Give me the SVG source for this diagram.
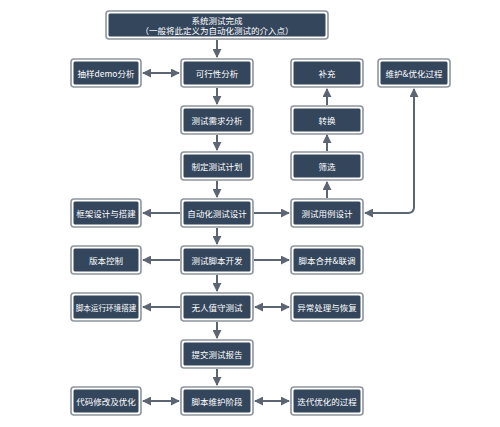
<svg xmlns="http://www.w3.org/2000/svg" width="500" height="427" viewBox="0 0 500 427">
<style>
.o{fill:#ffffff;stroke:#8e959f;stroke-width:1.6}
.i{fill:#34465c}
.t{fill:#ffffff;font-family:"Noto Sans CJK SC","Liberation Sans",sans-serif;font-size:8.5px;text-anchor:middle;dominant-baseline:central}
.s{font-size:7.6px}
.c{fill:none;stroke:#5b6573;stroke-width:2}
</style>
<defs>
<marker id="a" viewBox="0 0 10 10" refX="9" refY="5" markerWidth="4.5" markerHeight="4.5" orient="auto-start-reverse" markerUnits="strokeWidth">
<path d="M0,0 L10,5 L0,10 z" fill="#5b6573"/>
</marker>
</defs>
<rect width="500" height="427" fill="#ffffff"/>
<g id="connectors">
<line class="c" x1="217" y1="40" x2="217" y2="57" marker-end="url(#a)"/>
<line class="c" x1="143" y1="73" x2="179" y2="73" marker-start="url(#a)" marker-end="url(#a)"/>
<line class="c" x1="217" y1="88" x2="217" y2="104" marker-end="url(#a)"/>
<line class="c" x1="217" y1="135" x2="217" y2="150" marker-end="url(#a)"/>
<line class="c" x1="217" y1="181" x2="217" y2="197" marker-end="url(#a)"/>
<line class="c" x1="180" y1="213" x2="143" y2="213" marker-end="url(#a)"/>
<line class="c" x1="254" y1="213" x2="289" y2="213" marker-end="url(#a)"/>
<line class="c" x1="327" y1="198" x2="327" y2="182" marker-end="url(#a)"/>
<line class="c" x1="327" y1="151" x2="327" y2="135" marker-end="url(#a)"/>
<line class="c" x1="327" y1="105" x2="327" y2="89" marker-end="url(#a)"/>
<path class="c" d="M365,213 H408 Q414,213 414,207 V89" marker-start="url(#a)" marker-end="url(#a)"/>
<line class="c" x1="217" y1="228" x2="217" y2="244" marker-end="url(#a)"/>
<line class="c" x1="180" y1="260" x2="143" y2="260" marker-end="url(#a)"/>
<line class="c" x1="254" y1="260" x2="289" y2="260" marker-end="url(#a)"/>
<line class="c" x1="217" y1="275" x2="217" y2="291" marker-end="url(#a)"/>
<line class="c" x1="180" y1="307" x2="143" y2="307" marker-end="url(#a)"/>
<line class="c" x1="255" y1="307" x2="289" y2="307" marker-start="url(#a)" marker-end="url(#a)"/>
<line class="c" x1="217" y1="322" x2="217" y2="338" marker-end="url(#a)"/>
<line class="c" x1="217" y1="369" x2="217" y2="385" marker-end="url(#a)"/>
<line class="c" x1="143" y1="401" x2="179" y2="401" marker-start="url(#a)" marker-end="url(#a)"/>
<line class="c" x1="255" y1="401" x2="289" y2="401" marker-start="url(#a)" marker-end="url(#a)"/>
</g>
<g id="n_top"><rect class="o" x="106" y="11" width="222" height="28" rx="3"/><rect class="i" x="108.5" y="13.5" width="217" height="23" rx="1.5"/><text class="t" x="217" y="19.5">系统测试完成</text><text class="t" x="217" y="30">（一般将此定义为自动化测试的介入点）</text></g>
<g id="n_demo"><rect class="o" x="71" y="59" width="70" height="28" rx="3"/><rect class="i" x="73.5" y="61.5" width="65" height="23" rx="1.5"/><text class="t" x="106" y="73">抽样demo分析</text></g>
<g id="n_kx"><rect class="o" x="181" y="59" width="72" height="28" rx="3"/><rect class="i" x="183.5" y="61.5" width="67" height="23" rx="1.5"/><text class="t" x="217" y="73">可行性分析</text></g>
<g id="n_bc"><rect class="o" x="291" y="59" width="72" height="28" rx="3"/><rect class="i" x="293.5" y="61.5" width="67" height="23" rx="1.5"/><text class="t" x="327" y="73">补充</text></g>
<g id="n_wh"><rect class="o" x="378" y="59" width="72" height="28" rx="3"/><rect class="i" x="380.5" y="61.5" width="67" height="23" rx="1.5"/><text class="t" x="414" y="73">维护&amp;优化过程</text></g>
<g id="n_xq"><rect class="o" x="181" y="106" width="72" height="28" rx="3"/><rect class="i" x="183.5" y="108.5" width="67" height="23" rx="1.5"/><text class="t" x="217" y="120">测试需求分析</text></g>
<g id="n_zh"><rect class="o" x="291" y="106" width="72" height="28" rx="3"/><rect class="i" x="293.5" y="108.5" width="67" height="23" rx="1.5"/><text class="t" x="327" y="120">转换</text></g>
<g id="n_jh"><rect class="o" x="181" y="152" width="72" height="28" rx="3"/><rect class="i" x="183.5" y="154.5" width="67" height="23" rx="1.5"/><text class="t" x="217" y="166">制定测试计划</text></g>
<g id="n_sx"><rect class="o" x="291" y="152" width="72" height="28" rx="3"/><rect class="i" x="293.5" y="154.5" width="67" height="23" rx="1.5"/><text class="t" x="327" y="166">筛选</text></g>
<g id="n_kj"><rect class="o" x="71" y="199" width="70" height="28" rx="3"/><rect class="i" x="73.5" y="201.5" width="65" height="23" rx="1.5"/><text class="t" x="106" y="213">框架设计与搭建</text></g>
<g id="n_zd"><rect class="o" x="181" y="199" width="72" height="28" rx="3"/><rect class="i" x="183.5" y="201.5" width="67" height="23" rx="1.5"/><text class="t" x="217" y="213">自动化测试设计</text></g>
<g id="n_yl"><rect class="o" x="291" y="199" width="72" height="28" rx="3"/><rect class="i" x="293.5" y="201.5" width="67" height="23" rx="1.5"/><text class="t" x="327" y="213">测试用例设计</text></g>
<g id="n_bb"><rect class="o" x="71" y="246" width="70" height="28" rx="3"/><rect class="i" x="73.5" y="248.5" width="65" height="23" rx="1.5"/><text class="t" x="106" y="260">版本控制</text></g>
<g id="n_kf"><rect class="o" x="181" y="246" width="72" height="28" rx="3"/><rect class="i" x="183.5" y="248.5" width="67" height="23" rx="1.5"/><text class="t" x="217" y="260">测试脚本开发</text></g>
<g id="n_hb"><rect class="o" x="291" y="246" width="72" height="28" rx="3"/><rect class="i" x="293.5" y="248.5" width="67" height="23" rx="1.5"/><text class="t" x="327" y="260">脚本合并&amp;联调</text></g>
<g id="n_hj"><rect class="o" x="71" y="293" width="70" height="28" rx="3"/><rect class="i" x="73.5" y="295.5" width="65" height="23" rx="1.5"/><text class="t s" x="106" y="307">脚本运行环境搭建</text></g>
<g id="n_wr"><rect class="o" x="181" y="293" width="72" height="28" rx="3"/><rect class="i" x="183.5" y="295.5" width="67" height="23" rx="1.5"/><text class="t" x="217" y="307">无人值守测试</text></g>
<g id="n_yc"><rect class="o" x="291" y="293" width="72" height="28" rx="3"/><rect class="i" x="293.5" y="295.5" width="67" height="23" rx="1.5"/><text class="t" x="327" y="307">异常处理与恢复</text></g>
<g id="n_bg"><rect class="o" x="181" y="340" width="72" height="28" rx="3"/><rect class="i" x="183.5" y="342.5" width="67" height="23" rx="1.5"/><text class="t" x="217" y="354">提交测试报告</text></g>
<g id="n_dm"><rect class="o" x="71" y="387" width="70" height="28" rx="3"/><rect class="i" x="73.5" y="389.5" width="65" height="23" rx="1.5"/><text class="t" x="106" y="401">代码修改及优化</text></g>
<g id="n_wh2"><rect class="o" x="181" y="387" width="72" height="28" rx="3"/><rect class="i" x="183.5" y="389.5" width="67" height="23" rx="1.5"/><text class="t" x="217" y="401">脚本维护阶段</text></g>
<g id="n_dd"><rect class="o" x="291" y="387" width="72" height="28" rx="3"/><rect class="i" x="293.5" y="389.5" width="67" height="23" rx="1.5"/><text class="t" x="327" y="401">迭代优化的过程</text></g>
</svg>
